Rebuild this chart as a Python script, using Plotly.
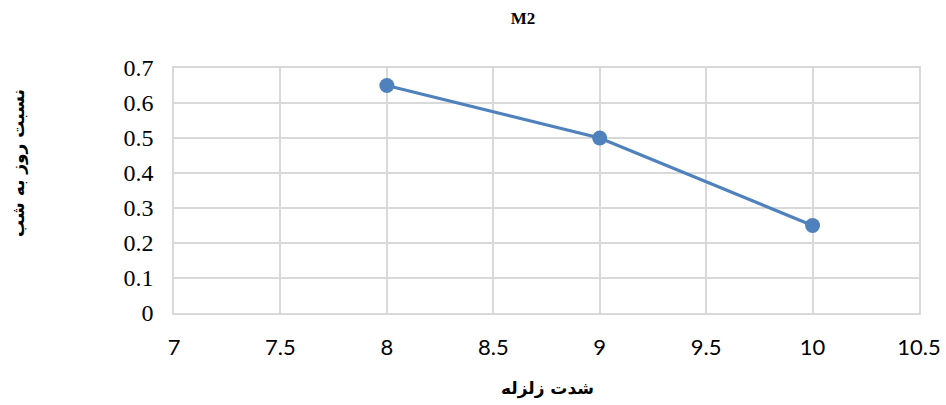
import plotly.graph_objects as go

x_vals = [8, 9, 10]
y_vals = [0.65, 0.5, 0.25]
title_text = "M2"
x_title = "شدت زلزله"
y_title = "نسبت روز به شب"

fig = go.Figure()
fig.add_trace(go.Scatter(
    x=x_vals, y=y_vals, mode="lines+markers",
    line=dict(color="#4f81bd", width=3.2),
    marker=dict(color="#4f81bd", size=15),
    showlegend=False,
))

fig.update_layout(
    width=946, height=405,
    margin=dict(l=174, r=27, t=68, b=92, autoexpand=False),
    plot_bgcolor="white", paper_bgcolor="white",
    title=dict(text="<b>" + title_text + "</b>", x=523 / 946, xanchor="center",
               y=1 - 18 / 405, yanchor="middle",
               font=dict(family="Liberation Serif", size=17, color="black")),
    xaxis=dict(range=[7, 10.5], dtick=0.5, tick0=7, automargin=False,
               showgrid=True, gridcolor="#d9d9d9", gridwidth=1.5,
               showline=True, linecolor="#d9d9d9", linewidth=1.5, mirror=True,
               zeroline=False, ticks="", ticklabelstandoff=14,
               tickfont=dict(family="Lato", size=22, color="black")),
    yaxis=dict(range=[0, 0.7], dtick=0.1, tick0=0, automargin=False,
               showgrid=True, gridcolor="#d9d9d9", gridwidth=1.5,
               showline=True, linecolor="#d9d9d9", linewidth=1.5, mirror=True,
               zeroline=False, ticks="", ticklabelstandoff=14,
               tickfont=dict(family="Liberation Serif", size=24, color="black")),
    annotations=[
        dict(text="<b>" + x_title + "</b>", xref="paper", yref="paper",
             x=(547 - 174) / 745, y=-(388 - 313) / 245, xanchor="center", yanchor="middle",
             showarrow=False, font=dict(family="DejaVu Sans", size=17, color="black")),
        dict(text="<b>" + y_title + "</b>", xref="paper", yref="paper",
             x=-(174 - 18) / 745, y=(313 - 163) / 245, xanchor="center", yanchor="middle",
             textangle=-90, showarrow=False,
             font=dict(family="DejaVu Sans", size=17, color="black")),
    ],
)

fig.write_html("out.html", config={"displayModeBar": False},
               post_script="document.body.style.margin='0';document.body.style.overflow='hidden';")
